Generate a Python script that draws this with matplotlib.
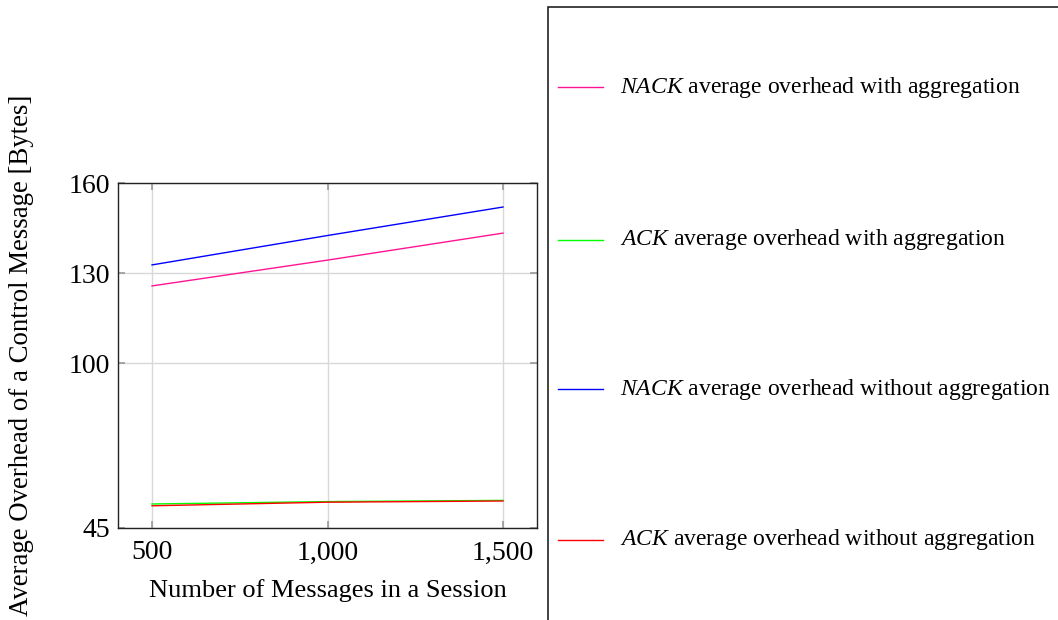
import matplotlib.pyplot as plt
from matplotlib.lines import Line2D
from matplotlib.patches import Rectangle

# data
messages = [500, 1000, 1500]
nack_with_agg = [125.7, 134.3, 143.3]
ack_with_agg = [53.0, 53.8, 54.2]
nack_without_agg = [132.7, 142.5, 152.0]
ack_without_agg = [52.4, 53.6, 54.0]

series = [
    (nack_with_agg, '#ff1493', 'NACK', 'average overhead with aggregation'),
    (ack_with_agg, '#00ff00', 'ACK', 'average overhead with aggregation'),
    (nack_without_agg, '#0000ff', 'NACK', 'average overhead without aggregation'),
    (ack_without_agg, '#ff0000', 'ACK', 'average overhead without aggregation'),
]

plt.rcParams['font.family'] = ['Liberation Serif', 'DejaVu Serif']
plt.rcParams['mathtext.fontset'] = 'custom'
plt.rcParams['mathtext.it'] = 'Liberation Serif:italic'
plt.rcParams['mathtext.rm'] = 'Liberation Serif'

fig = plt.figure(figsize=(10.58, 6.2), dpi=100)
ax = fig.add_axes([0.1115, 0.1484, 0.3961, 0.5564])

for vals, col, _, _ in series:
    ax.plot(messages, vals, color=col, lw=1.0)

ax.set_xlim(403, 1597)
ax.set_ylim(45, 160)
ax.set_xticks(messages)
ax.set_xticklabels(['500', '1,000', '1,500'])
ax.set_yticks([45, 100, 130, 160])
ax.grid(True, color='#d8d8d8', lw=1.0)
ax.tick_params(direction='in', length=5, width=1.2, color='#999999',
               labelsize=20, top=True, right=True)
ax.tick_params(axis='x', pad=9)
ax.tick_params(axis='y', pad=6)
for s in ax.spines.values():
    s.set_color('#222222')
    s.set_linewidth(1.0)

ax.set_xlabel('Number of Messages in a Session', fontsize=19, labelpad=10)
fig.text(22 / 1058, 1 - 355 / 620, 'Average Overhead of a Control Message [Bytes]',
         rotation=90, fontsize=19.3, ha='center', va='center')

# legend box (runs past the right and bottom edge)
fig.patches.append(Rectangle((548 / 1058, -0.1), 0.6, 1 - 7 / 620 + 0.1,
                             transform=fig.transFigure, fill=False,
                             edgecolor='#222222', lw=1.2))
legend_y = [87, 240, 389, 540]
for (vals, col, key, rest), yp in zip(series, legend_y):
    yf = 1 - yp / 620
    fig.add_artist(Line2D([558 / 1058, 603 / 1058], [yf, yf], color=col, lw=1.0,
                          transform=fig.transFigure))
    fig.text(620 / 1058, yf, r'$\mathit{' + key + '}$ ' + rest, fontsize=17,
             ha='left', va='center')

fig.savefig('out.png', dpi=100)
